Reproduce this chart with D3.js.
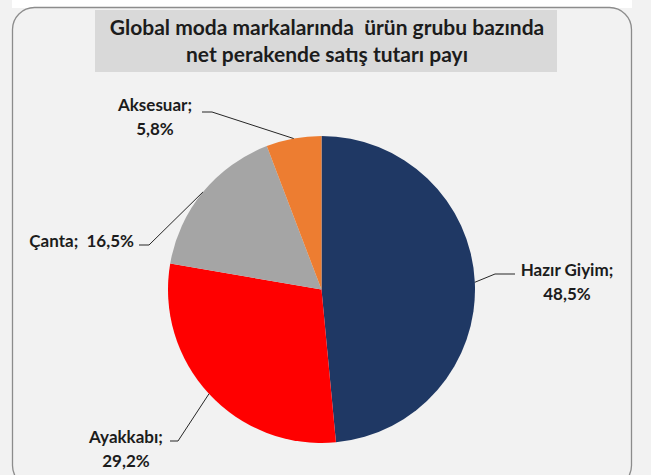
<!DOCTYPE html>
<html>
<head>
<meta charset="utf-8">
<script src="https://cdn.jsdelivr.net/npm/d3@7"></script>
<style>
  body { margin: 0; background: #f2f2f2; }
  svg { display: block; }
  text { font-family: Lato, "Open Sans", sans-serif; font-weight: bold; fill: #1c1c1c; }
</style>
</head>
<body>
<div id="chart"></div>
<script>
// data
var categories = ["Hazır Giyim", "Ayakkabı", "Çanta", "Aksesuar"];
var shares = [48.5, 29.2, 16.5, 5.8];
var sliceColors = ["#1f3864", "#ff0000", "#a5a5a5", "#ed7d31"];
var titleLines = ["Global moda markalarında  ürün grubu bazında", "net perakende satış tutarı payı"];

// label layout: where the text sits and where the leader line bends
var labelLayout = [
    { x: 567, y: 276, anchor: "middle", elbowX: 495, elbowY: 274, endX: 515, twoLines: true },
    { x: 126, y: 443, anchor: "middle", elbowX: 178, elbowY: 441, endX: 170, twoLines: true },
    { x: 134, y: 247, anchor: "end", elbowX: 149, elbowY: 245, endX: 139, twoLines: false },
    { x: 155, y: 111, anchor: "middle", elbowX: 212, elbowY: 112, endX: 202, twoLines: true }
];

var width = 651, height = 475;
var cx = 321.5, cy = 289.5, radius = 153.5;

var svg = d3.select("#chart").append("svg")
    .attr("width", width)
    .attr("height", height);

// white strip above the panel
svg.append("rect")
    .attr("x", 12).attr("y", 0)
    .attr("width", 620).attr("height", 8)
    .attr("fill", "#ffffff");

// chart panel
svg.append("rect")
    .attr("x", 12.5).attr("y", 7.5)
    .attr("width", 619).attr("height", 480)
    .attr("rx", 22).attr("ry", 22)
    .attr("fill", "#f2f2f2")
    .attr("stroke", "#8c8c8c")
    .attr("stroke-width", 1.3);

// title box
svg.append("rect")
    .attr("x", 95).attr("y", 10)
    .attr("width", 462).attr("height", 62)
    .attr("fill", "#d9d9d9");

svg.selectAll(".title")
    .data(titleLines)
    .enter()
    .append("text")
    .attr("class", "title")
    .attr("x", 327)
    .attr("y", (d, i) => 35 + i * 27)
    .attr("text-anchor", "middle")
    .style("font-size", "21px")
    .style("white-space", "pre")
    .text(d => d);

var data = categories.map((c, i) => ({ name: c, value: shares[i], color: sliceColors[i] }));

var pie = d3.pie()
    .sort(null)
    .value(d => d.value);

var arc = d3.arc()
    .innerRadius(0)
    .outerRadius(radius);

var g = svg.append("g")
    .attr("transform", `translate(${cx},${cy})`);

var arcs = pie(data);

g.selectAll(".slice")
    .data(arcs)
    .enter()
    .append("path")
    .attr("class", "slice")
    .attr("fill", d => d.data.color)
    .attr("d", arc);

// leader lines start at the middle of each slice's outer edge
var edge = d3.arc().innerRadius(radius).outerRadius(radius);

svg.selectAll(".leader")
    .data(arcs)
    .enter()
    .append("polyline")
    .attr("class", "leader")
    .attr("fill", "none")
    .attr("stroke", "#262626")
    .attr("stroke-width", 1)
    .attr("points", (d, i) => {
        var p = edge.centroid(d);
        var l = labelLayout[i];
        return [[cx + p[0], cy + p[1]], [l.elbowX, l.elbowY], [l.endX, l.elbowY]].map(q => q.join(",")).join(" ");
    });

var fmt = v => v.toFixed(1).replace(".", ",") + "%";

svg.selectAll(".label")
    .data(arcs)
    .enter()
    .append("text")
    .attr("class", "label")
    .attr("text-anchor", (d, i) => labelLayout[i].anchor)
    .style("font-size", "17px")
    .style("white-space", "pre")
    .each(function (d, i) {
        var l = labelLayout[i];
        var t = d3.select(this);
        if (l.twoLines) {
            t.append("tspan").attr("x", l.x).attr("y", l.y).text(d.data.name + ";");
            t.append("tspan").attr("x", l.x).attr("y", l.y + 24).text(fmt(d.data.value));
        } else {
            t.append("tspan").attr("x", l.x).attr("y", l.y).text(d.data.name + ";  " + fmt(d.data.value));
        }
    });
</script>
</body>
</html>
